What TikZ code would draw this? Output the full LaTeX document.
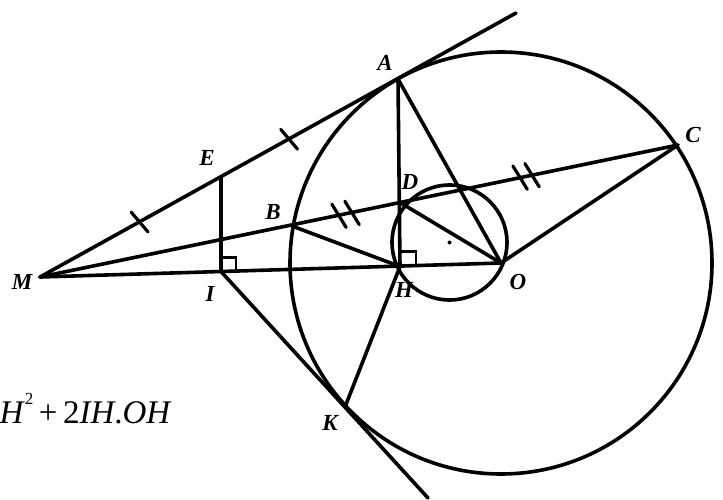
\documentclass[tikz,border=0pt]{standalone}
\usepackage{fontspec}
\setmainfont{Liberation Serif}
\usetikzlibrary{calc}
\begin{document}
\begin{tikzpicture}[x=1pt,y=-1pt,
  geo/.style={line width=3.6pt,line cap=round,line join=round},
  rightmark/.style={line width=2.8pt,line join=miter},
  tickmark/.style={line width=3.2pt,line cap=round},
  lbl/.style={font=\fontsize{23}{23}\selectfont\bfseries\itshape,inner sep=0pt}]
\useasboundingbox (0,0) rectangle (723,500);
\clip (0,0) rectangle (723,500);
% points
\coordinate (M) at (40,277);
\coordinate (O) at (501,263);
\coordinate (A) at (398,79);
\coordinate (C) at (678,145);
\coordinate (B) at (292,226);
\coordinate (D) at (400,202.5);
\coordinate (H) at (400,266.5);
\coordinate (E) at (221,177);
\coordinate (I) at (221,271.5);
\coordinate (K) at (345,407);
\coordinate (T) at (516,13);
\coordinate (L) at (428,498);
\coordinate (S) at (449.5,242.5);
% circles
\draw[geo] (O) circle[radius=211pt];
\draw[geo] (S) circle[radius=57.5pt];
\fill (S) circle[radius=2pt];
% lines
\draw[geo] (M) -- (T);
\draw[geo] (M) -- (C);
\draw[geo] (M) -- (O);
\draw[geo] (E) -- (I);
\draw[geo] (I) -- (L);
\draw[geo] (A) -- (H);
\draw[geo] (A) -- (O);
\draw[geo] (B) -- (H);
\draw[geo] (H) -- (K);
\draw[geo] (D) -- (O);
\draw[geo] (C) -- (O);
% right angles
\draw[rightmark] ($(I)+(0,-14)$) -| ($(I)+(15,0)$);
\draw[rightmark] ($(H)+(0,-15)$) -| ($(H)+(16,0)$);
% tick marks
\draw[tickmark] ($(M)!0.55!(E)$) ++(-8.4,-9.9) -- ++(16.8,19.8);
\draw[tickmark] ($(E)!0.385!(A)$) ++(-8.4,-9.9) -- ++(16.8,19.8);
\draw[tickmark] ($(B)!0.435!(D)$) ++(-7.2,-11.7) -- ++(14.4,23.4);
\draw[tickmark] ($(B)!0.556!(D)$) ++(-7.2,-11.7) -- ++(14.4,23.4);
\draw[tickmark] ($(D)!0.432!(C)$) ++(-7.2,-11.7) -- ++(14.4,23.4);
\draw[tickmark] ($(D)!0.475!(C)$) ++(-7.2,-11.7) -- ++(14.4,23.4);
% labels
\node[lbl] (lA) at (385,63) {A};
\node[lbl] (lC) at (693,135) {C};
\node[lbl] (lD) at (410,182) {D};
\node[lbl] (lH) at (404,290) {H};
\node[lbl] (lO) at (518,282) {O};
\node[lbl] (lE) at (207,158) {E};
\node[lbl] (lB) at (273,212) {B};
\node[lbl] (lI) at (210,294) {I};
\node[lbl] (lM) at (22,282) {M};
\node[lbl] (lK) at (330,423) {K};
% formula
\node[anchor=base east,inner sep=0pt,font=\fontsize{33}{33}\selectfont] (f) at (172,423)
  {\textit{H}\raisebox{0.55em}{\fontsize{17}{17}\selectfont 2}\,+\,2\textit{IH}.\textit{OH}};
\end{tikzpicture}
\end{document}
